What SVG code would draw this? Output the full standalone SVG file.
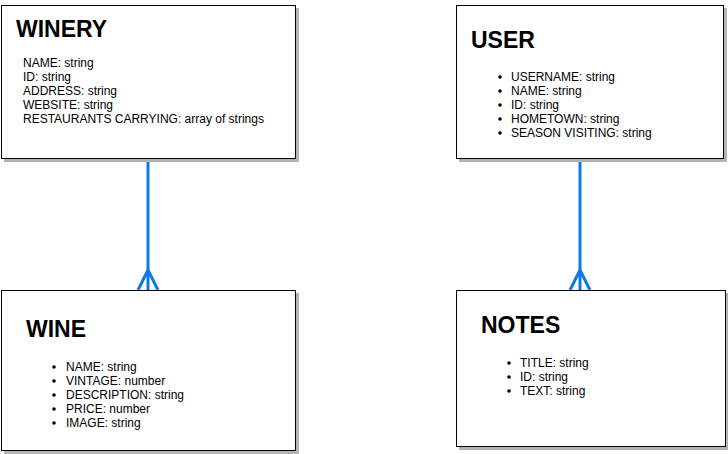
<svg xmlns="http://www.w3.org/2000/svg" width="728" height="454" viewBox="0 0 728 454">
<defs>
<style>
.box{fill:#fff;stroke:#000;stroke-width:1}
.sh{fill:#b3b3b3}
.title{font-family:"Liberation Sans",Arial,sans-serif;font-weight:bold;font-size:23px;fill:#000}
.attr{font-family:"Liberation Sans",Arial,sans-serif;font-size:12px;fill:#000}
.bul{fill:#000}
.conn{stroke:#0F7AE5;stroke-width:3;fill:none}
</style>
</defs>
<rect width="728" height="454" fill="#fff"/>
<g id="connectors">
<path class="conn" d="M148,159 V290 M148,270 L138,290 M148,270 L158,290"/>
<path class="conn" d="M580,158 V290 M580,270 L570,290 M580,270 L590,290"/>
</g>
<g id="winery">
<rect class="sh" x="4" y="8" width="295" height="154"/>
<rect class="box" x="1.5" y="5.5" width="294" height="153"/>
<text class="title" x="16" y="37">WINERY</text>
<text class="attr" x="23" y="67">NAME: string</text>
<text class="attr" x="23" y="81">ID: string</text>
<text class="attr" x="23" y="95">ADDRESS: string</text>
<text class="attr" x="23" y="109">WEBSITE: string</text>
<text class="attr" x="23" y="123">RESTAURANTS CARRYING: array of strings</text>
</g>
<g id="user">
<rect class="sh" x="459" y="8" width="268" height="154"/>
<rect class="box" x="456.5" y="5.5" width="267" height="153"/>
<text class="title" x="471" y="48">USER</text>
<circle class="bul" cx="500" cy="77" r="1.8"/>
<circle class="bul" cx="500" cy="91" r="1.8"/>
<circle class="bul" cx="500" cy="105" r="1.8"/>
<circle class="bul" cx="500" cy="119" r="1.8"/>
<circle class="bul" cx="500" cy="133" r="1.8"/>
<text class="attr" x="511" y="81">USERNAME: string</text>
<text class="attr" x="511" y="95">NAME: string</text>
<text class="attr" x="511" y="109">ID: string</text>
<text class="attr" x="511" y="123">HOMETOWN: string</text>
<text class="attr" x="511" y="137">SEASON VISITING: string</text>
</g>
<g id="wine">
<rect class="sh" x="4" y="293" width="295" height="161"/>
<rect class="box" x="1.5" y="290.5" width="294" height="160"/>
<text class="title" x="26" y="337">WINE</text>
<circle class="bul" cx="54" cy="367" r="1.8"/>
<circle class="bul" cx="54" cy="381" r="1.8"/>
<circle class="bul" cx="54" cy="395" r="1.8"/>
<circle class="bul" cx="54" cy="409" r="1.8"/>
<circle class="bul" cx="54" cy="423" r="1.8"/>
<text class="attr" x="66" y="371">NAME: string</text>
<text class="attr" x="66" y="385">VINTAGE: number</text>
<text class="attr" x="66" y="399">DESCRIPTION: string</text>
<text class="attr" x="66" y="413">PRICE: number</text>
<text class="attr" x="66" y="427">IMAGE: string</text>
</g>
<g id="notes">
<rect class="sh" x="459" y="293" width="270" height="157"/>
<rect class="box" x="456.5" y="290.5" width="269" height="156"/>
<text class="title" x="481" y="333">NOTES</text>
<circle class="bul" cx="509" cy="363" r="1.8"/>
<circle class="bul" cx="509" cy="377" r="1.8"/>
<circle class="bul" cx="509" cy="391" r="1.8"/>
<text class="attr" x="520" y="367">TITLE: string</text>
<text class="attr" x="520" y="381">ID: string</text>
<text class="attr" x="520" y="395">TEXT: string</text>
</g>
</svg>
